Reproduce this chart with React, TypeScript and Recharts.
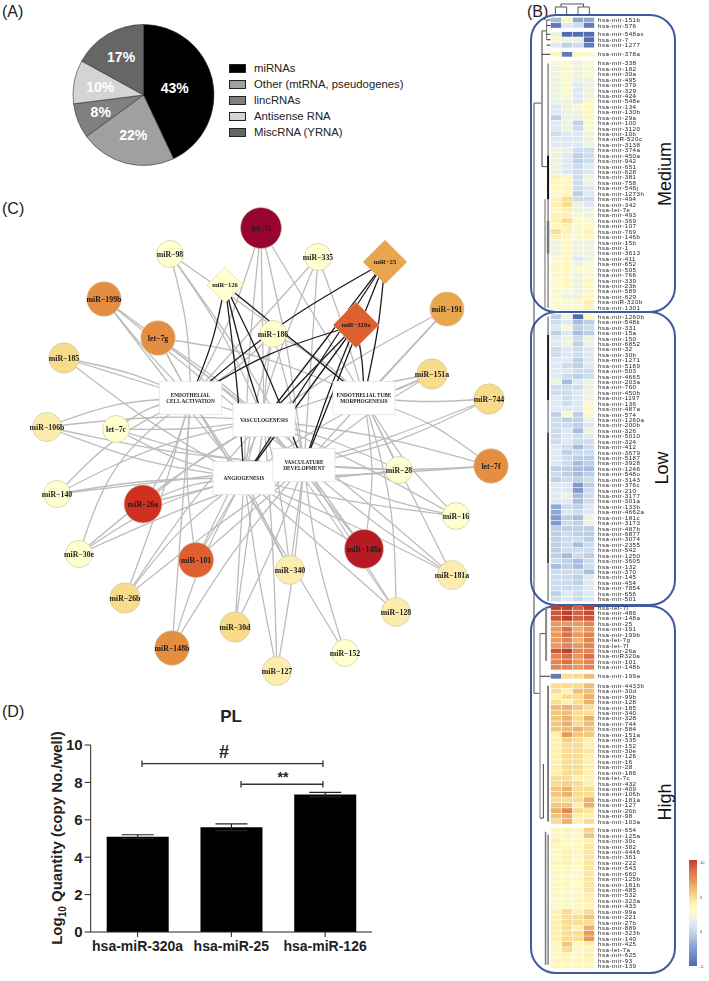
import React from 'react'
import {
  PieChart, Pie, Cell, Legend, ScatterChart, Scatter, XAxis, YAxis,
  BarChart, Bar, ErrorBar,
} from 'recharts'

const SANS = '"Liberation Sans", Arial, sans-serif'
const SERIF = '"Liberation Serif", "Times New Roman", serif'

// (A) RNA classes
const rnaNames = ['miRNAs', 'Other (mtRNA, pseudogenes)', 'lincRNAs', 'Antisense RNA', 'MiscRNA (YRNA)']
const rnaShare = [43, 22, 8, 10, 17]
const rnaColors = ['#000000', '#a0a0a0', '#808080', '#d4d4d4', '#666666']
const rnaLabelRadius = [32, 41, 46, 44, 44]

// (D) qPCR
const qpcrNames = ['hsa-miR-320a', 'hsa-miR-25', 'hsa-miR-126']
const qpcrMeans = [5.1, 5.6, 7.35]
const qpcrErrors = [0.1, 0.18, 0.12]
// significance brackets: from, to (in bar slots), height
const sigBrackets = [[0.547, 2.477, 9.0], [1.603, 2.477, 7.9]]

// (C) network nodes, x/y are the layout positions of the graph
const nodeNames = ['let-7i', 'miR-98', 'miR-126', 'miR-335', 'miR-25', 'miR-191', 'miR-320a', 'miR-199b', 'let-7g', 'miR-186', 'miR-185', 'miR-151a', 'miR-744', 'miR-106b', 'let-7c', 'let-7f', 'miR-28', 'miR-140', 'miR-16', 'miR-26a', 'miR-30e', 'miR-101', 'miR-148a', 'miR-340', 'miR-181a', 'miR-26b', 'miR-128', 'miR-30d', 'miR-148b', 'miR-152', 'miR-127']
const nodeX = [261, 170, 225, 318, 385, 447, 356, 104, 158, 273, 64, 432, 489, 47, 116, 491, 399, 57, 456, 143, 79, 196, 364, 290, 452, 125, 396, 235, 172, 345, 277]
const nodeY = [228, 254, 285, 257, 262, 309, 325, 299, 338, 334, 358, 374, 399, 427, 429, 466, 470, 494, 516, 504, 554, 560, 549, 570, 575, 598, 612, 627, 648, 653, 671]
const nodeLevel = [8, 0, 0, 0, 3, 3, 5, 4, 4, 0, 2, 2, 2, 1, 0, 4, 0, 0, 0, 6, 0, 5, 7, 1, 1, 2, 1, 2, 4, 0, 1]
const diamondNodes = ['miR-126', 'miR-25', 'miR-320a']
const levelColors = ['#ffffcf', '#fcedae', '#f8dc8a', '#e9a64c', '#e58d40', '#df5f30', '#cf3022', '#b81a24', '#98042f']
const levelRadius = [13.5, 14.5, 15.2, 17, 17.2, 17.6, 19, 19.5, 20.5]
const diamondSize = { 'miR-126': 18, 'miR-25': 22, 'miR-320a': 23 }

const processKeys = ['E', 'V', 'T', 'A', 'D']
const processX = [190.5, 264, 364, 244, 304]
const processY = [398, 420, 398, 478, 465]
const processLines = [
  ['ENDOTHELIAL', 'CELL ACTIVATION'],
  ['VASCULOGENESIS'],
  ['ENDOTHELIAL TUBE', 'MORPHOGENESIS'],
  ['ANGIOGENESIS'],
  ['VASCULATURE', 'DEVELOPMENT'],
]

const grayEdges: [string, string, number][] = [
  ['let-7i', 'E', -6], ['let-7i', 'V', 0], ['let-7i', 'A', 3], ['let-7i', 'D', -4], ['let-7i', 'T', 0],
  ['miR-98', 'E', -6], ['miR-98', 'V', -6], ['miR-98', 'D', -5], ['miR-98', 'T', -3],
  ['miR-335', 'E', 0], ['miR-335', 'A', 6], ['miR-335', 'D', 0], ['miR-335', 'T', -2],
  ['miR-186', 'E', -4], ['miR-186', 'V', 2], ['miR-186', 'A', 3], ['miR-186', 'D', -2], ['miR-186', 'T', -6],
  ['miR-191', 'T', 0], ['miR-191', 'D', 0], ['miR-191', 'V', 4],
  ['miR-199b', 'E', 2], ['miR-199b', 'V', -1], ['miR-199b', 'D', -1], ['miR-199b', 'A', 1],
  ['let-7g', 'E', 0], ['let-7g', 'V', -3], ['let-7g', 'A', 3], ['let-7g', 'D', -4], ['let-7g', 'T', -10],
  ['miR-185', 'E', -5], ['miR-185', 'V', 0], ['miR-185', 'A', 5],
  ['miR-151a', 'T', -3], ['miR-151a', 'V', 5], ['miR-151a', 'D', 4], ['miR-151a', 'A', 8],
  ['miR-744', 'T', -3], ['miR-744', 'D', -8], ['miR-744', 'A', -6],
  ['miR-106b', 'E', -8], ['miR-106b', 'V', -6], ['miR-106b', 'A', 8], ['miR-106b', 'D', 6],
  ['let-7c', 'E', -6], ['let-7c', 'V', 4], ['let-7c', 'A', 6], ['let-7c', 'D', 8],
  ['let-7f', 'T', 8], ['let-7f', 'V', 6], ['let-7f', 'D', -4], ['let-7f', 'A', -2],
  ['miR-28', 'T', 0], ['miR-28', 'V', 4], ['miR-28', 'D', 0], ['miR-28', 'A', -4],
  ['miR-140', 'E', -10], ['miR-140', 'V', -10], ['miR-140', 'A', -5], ['miR-140', 'D', 0],
  ['miR-16', 'D', -6], ['miR-16', 'A', -4], ['miR-16', 'T', -6], ['miR-16', 'V', 3],
  ['miR-26a', 'E', 6], ['miR-26a', 'A', -6], ['miR-26a', 'D', 0], ['miR-26a', 'V', -4],
  ['miR-30e', 'E', -20], ['miR-30e', 'A', -10], ['miR-30e', 'V', -6], ['miR-30e', 'D', -4],
  ['miR-101', 'E', -6], ['miR-101', 'A', 0], ['miR-101', 'D', 0], ['miR-101', 'V', 0],
  ['miR-148a', 'T', 8], ['miR-148a', 'D', 0], ['miR-148a', 'A', 0], ['miR-148a', 'V', 0],
  ['miR-340', 'A', 0], ['miR-340', 'V', 3], ['miR-340', 'D', 0], ['miR-340', 'E', 2],
  ['miR-181a', 'T', 0], ['miR-181a', 'D', -4], ['miR-181a', 'V', 2], ['miR-181a', 'A', 3],
  ['miR-26b', 'E', 3], ['miR-26b', 'A', -8], ['miR-26b', 'V', -6], ['miR-26b', 'D', -3],
  ['miR-128', 'T', 10], ['miR-128', 'A', 0], ['miR-128', 'D', 0], ['miR-128', 'V', 0],
  ['miR-30d', 'A', 0], ['miR-30d', 'V', 0], ['miR-30d', 'D', 3],
  ['miR-148b', 'A', -6], ['miR-148b', 'D', -6], ['miR-148b', 'E', 0],
  ['miR-152', 'D', -6], ['miR-152', 'E', 0],
  ['miR-127', 'A', -2], ['miR-127', 'V', 2], ['miR-127', 'D', 3],
]
const blackEdges: [string, string, number][] = [
  ['miR-126', 'E', -4], ['miR-126', 'V', 2], ['miR-126', 'A', -2], ['miR-126', 'T', 0], ['miR-126', 'D', -3],
  ['miR-25', 'E', 8], ['miR-25', 'V', 0], ['miR-25', 'A', 0], ['miR-25', 'D', 0], ['miR-25', 'T', -3],
  ['miR-320a', 'E', 8], ['miR-320a', 'V', 0], ['miR-320a', 'A', 0], ['miR-320a', 'D', 2], ['miR-320a', 'T', -2],
]

// (B) heat map, rows as [col1, col2, col3, col4]
const mediumNames = ['hsa-mir-151b', 'hsa-mir-576', 'hsa-mir-548ax', 'hsa-mir-7', 'hsa-mir-1277', 'hsa-mir-378a', 'hsa-mir-338', 'hsa-mir-182', 'hsa-mir-30a', 'hsa-mir-495', 'hsa-mir-379', 'hsa-mir-329', 'hsa-mir-424', 'hsa-mir-548e', 'hsa-mir-134', 'hsa-mir-130b', 'hsa-mir-29a', 'hsa-mir-100', 'hsa-mir-3120', 'hsa-mir-10b', 'hsa-miR-520c', 'hsa-mir-3138', 'hsa-mir-374a', 'hsa-mir-450a', 'hsa-mir-942', 'hsa-mir-651', 'hsa-mir-628', 'hsa-mir-381', 'hsa-mir-758', 'hsa-mir-548j', 'hsa-mir-1273h', 'hsa-mir-494', 'hsa-mir-342', 'hsa-let-7e', 'hsa-mir-493', 'hsa-mir-369', 'hsa-mir-107', 'hsa-mir-769', 'hsa-mir-146b', 'hsa-mir-15b', 'hsa-mir-1', 'hsa-mir-3613', 'hsa-mir-411', 'hsa-mir-652', 'hsa-mir-505', 'hsa-mir-766', 'hsa-mir-339', 'hsa-mir-23b', 'hsa-mir-589', 'hsa-mir-629', 'hsa-miR-320b', 'hsa-mir-1301']
const mediumValues = [
  [-5, 1, -6, -6], [-9, -2, -3, -9], [-1, -10, -10, -10], [1, -1, -1, -10], [-2, -4, -3, -9], [1, -9, 1, 0],
  [0, 0, -1, 0], [-1, 0, -1, 0], [-1, 0, -1, 0], [-1, 0, -1, -1], [-1, 0, -2, -1], [-1, 0, -2, -1], [-1, 0, -2, -1],
  [-1, -1, -2, 1], [-2, -1, 0, 1], [-2, -1, -1, 1], [-4, -1, -1, 1], [-2, -1, -4, 0], [-2, -1, -3, 0], [-3, -2, -2, -1],
  [-2, -2, -2, -1], [-2, -2, -2, -1], [-1, -1, -3, -3], [-1, -2, -4, -3], [-1, -2, -4, -3], [-1, -2, -3, -2], [-1, -2, -3, -2],
  [2, 1, -3, -1], [1, 1, -3, -1], [1, 1, -3, -2], [0, 1, -4, -2], [2, 3, -3, -3], [2, 3, -1, -2], [1, 2, -1, -1],
  [2, 2, 0, -1], [2, 3, 0, 0], [1, 2, 0, 1], [3, 2, 0, 2], [2, 1, 0, 1], [-1, 1, -1, -1], [-1, 1, -1, -1], [-1, 1, -1, -1],
  [0, 1, -2, -1], [0, 1, -1, 0], [1, 1, 0, 0], [1, 1, -1, 0], [0, 1, -1, 1], [0, 1, -1, 1], [0, 0, -1, 1], [0, -1, -1, 1],
  [0, 0, 0, 2], [0, 0, 0, 2],
]
const mediumStarts = [0, 2.63, 6.32, 7.97]
const mediumSizes = [2, 3, 1, 46]

const lowNames = ['hsa-mir-1260b', 'hsa-mir-548k', 'hsa-mir-331', 'hsa-mir-15a', 'hsa-mir-150', 'hsa-mir-6852', 'hsa-mir-32', 'hsa-mir-30b', 'hsa-mir-1271', 'hsa-mir-5189', 'hsa-mir-503', 'hsa-mir-4665', 'hsa-mir-203a', 'hsa-mir-760', 'hsa-mir-450b', 'hsa-mir-1197', 'hsa-mir-136', 'hsa-mir-487a', 'hsa-mir-574', 'hsa-mir-1260a', 'hsa-mir-200b', 'hsa-mir-326', 'hsa-mir-5010', 'hsa-mir-324', 'hsa-mir-412', 'hsa-mir-3679', 'hsa-mir-5187', 'hsa-mir-3928', 'hsa-mir-1246', 'hsa-mir-548o', 'hsa-mir-3143', 'hsa-mir-376c', 'hsa-mir-210', 'hsa-mir-3177', 'hsa-mir-301a', 'hsa-mir-133b', 'hsa-mir-4662a', 'hsa-mir-181c', 'hsa-mir-3173', 'hsa-mir-487b', 'hsa-mir-6877', 'hsa-mir-3074', 'hsa-mir-2355', 'hsa-mir-542', 'hsa-mir-1250', 'hsa-mir-3605', 'hsa-mir-132', 'hsa-mir-370', 'hsa-mir-145', 'hsa-mir-454', 'hsa-mir-7854', 'hsa-mir-656', 'hsa-mir-501']
const lowValues = [
  [-4, -1, -10, 1], [-3, -2, -5, -4], [-2, 0, -4, -3], [-4, -2, -5, -4], [-2, -1, -3, -1], [-2, -1, -4, -1], [-3, -2, -3, -2],
  [-3, -2, -3, -2], [-2, -2, -4, -2], [-2, -3, -4, -2], [-2, -2, -3, -3], [-2, -3, -4, -3], [-1, -5, -2, -1], [-3, -3, -3, -1],
  [-3, -3, -2, -1], [-2, -3, -2, -1], [-2, -3, -2, 0], [-2, -2, -2, 1], [-4, 0, -4, 0], [-3, -4, -4, -1], [-3, -3, -4, -2],
  [-3, -2, -5, -1], [-3, -2, -3, -2], [-3, -2, -3, -3], [-2, -3, -5, -3], [-2, -4, -3, -3], [-2, -3, -4, -4], [-2, -3, -5, -4],
  [-4, -4, -5, -5], [-3, -4, -5, -4], [-4, -3, -4, -3], [-2, -2, -7, -4], [-2, -2, -7, -3], [-2, -1, -5, -3], [-2, -2, -5, -3],
  [-6, -3, -4, -2], [-6, -2, -3, -2], [-7, -4, -5, -1], [-7, -3, -4, -1], [-4, -4, -4, -4], [-4, -3, -4, -4], [-4, -3, -3, -4],
  [-4, -3, -5, -3], [-4, -3, -3, -3], [-4, -5, -3, -4], [-3, -4, -5, -3], [-5, -4, -5, -3], [-3, -3, -3, -5], [-3, -3, -4, -2],
  [-3, -3, -4, -2], [-3, -3, -3, -2], [-4, -2, -3, -2], [-3, -2, -3, -2],
]
const lowStarts = [54.64]
const lowSizes = [53]

const highNames = ['hsa-let-7i', 'hsa-mir-486', 'hsa-mir-148a', 'hsa-mir-25', 'hsa-mir-191', 'hsa-mir-199b', 'hsa-let-7g', 'hsa-let-7f', 'hsa-mir-26a', 'hsa-miR320a', 'hsa-mir-101', 'hsa-mir-148b', 'hsa-mir-199a', 'hsa-mir-4433b', 'hsa-mir-30d', 'hsa-mir-99b', 'hsa-mir-128', 'hsa-mir-185', 'hsa-mir-340', 'hsa-mir-328', 'hsa-mir-744', 'hsa-mir-584', 'hsa-mir-151a', 'hsa-mir-335', 'hsa-mir-152', 'hsa-mir-30e', 'hsa-mir-126', 'hsa-mir-16', 'hsa-mir-28', 'hsa-mir-186', 'hsa-let-7c', 'hsa-mir-432', 'hsa-mir-409', 'hsa-mir-106b', 'hsa-mir-181a', 'hsa-mir-127', 'hsa-mir-26b', 'hsa-mir-98', 'hsa-mir-103a', 'hsa-mir-654', 'hsa-mir-125a', 'hsa-mir-30c', 'hsa-mir-382', 'hsa-mir-4446', 'hsa-mir-361', 'hsa-mir-222', 'hsa-mir-543', 'hsa-mir-660', 'hsa-mir-125b', 'hsa-mir-181b', 'hsa-mir-485', 'hsa-mir-532', 'hsa-mir-323a', 'hsa-mir-433', 'hsa-mir-99a', 'hsa-mir-221', 'hsa-mir-27b', 'hsa-mir-889', 'hsa-mir-323b', 'hsa-mir-140', 'hsa-mir-425', 'hsa-let-7a', 'hsa-mir-625', 'hsa-mir-93', 'hsa-mir-139']
const highValues = [
  [10, 10, 8.5, 10], [9, 10, 8.5, 9.5], [9, 10, 8.5, 9], [6, 6, 6, 7], [6, 8, 5, 6], [6, 8, 6, 7], [6, 7, 5, 7], [6, 7, 6, 7],
  [9, 10, 7, 7], [7, 8, 6, 8], [7, 8, 6, 7], [7, 7, 6, 7], [-9, 3, 3, 4.5], [3, 3, 3, 4.5], [3, 2, 4.5, 4.5], [2, 3, 3, 5],
  [3, 2, 3, 5], [4.5, 5, 4, 3], [4, 4.5, 3, 3], [4, 5, 3, 5], [4, 5, 3, 4.5], [4, 4.5, 5, 4], [2, 6, 4, 4], [2, 3.5, 3, 2],
  [2, 3, 3, 2], [2, 3, 3, 2.5], [2, 3, 3, 2], [2, 3, 3, 2], [2, 3, 3, 2], [2, 3, 3, 2], [3, 3, 2, 2], [3, 3.5, 3, 2], [4, 5, 3, 3],
  [4, 5, 3, 3], [3, 3, 3, 5], [4, 4, 2, 5], [5, 7, 3, 2.5], [4, 5, 2, 2], [3, 5, 2, 3], [1, 1.5, 1, 3.5], [1, 1.5, 1, 4], [2, 1, 1, 2],
  [1, 1, 1, 2.5], [1, 2, 1, 2.5], [1, 2, 1, 2.5], [1.5, 2, 1, 2.5], [1, 1, 0.5, 2.5], [1, 1, 0, 2.5], [1, 1, 1, 2.5], [1, 1, 0.5, 2.5],
  [1, 1, 1, 2.5], [1, 1, 1, 2], [0, 0, 1, 2], [0, 1, 1, 1.5], [2, 3, 2, 3], [2, 3, 3, 4], [2, 3, 3, 3], [2, 3, 2, 5], [2, 3, 3, 6],
  [2, 3, 3, 6], [1, 4, 1, 2], [1, 3, 1, 1.5], [1, 1.5, 1, 2], [1, 1.5, 1, 1.5], [1, 1, 1, 1],
]
const highStarts = [108.2, 120.86, 122.6, 149.2]
const highSizes = [12, 1, 26, 26]

const scaleValues = [-10, -6, -4, -2, -1, 0.5, 2, 3, 4.5, 6, 8, 10]
const scaleColors = ['#4f6db0', '#8fa9d4', '#bdd0e6', '#dfe9f3', '#eef3e0', '#fefcc8', '#fdf0b0', '#f9dd90', '#efbd75', '#e69a5c', '#d9704a', '#bf3f2e']
const colorbarTicks = ['10', '5', '0', '-5']

// dendrogram branches: col, row, col, row, colour, width
const dendroBranches: [number, number, number, number, string, number][] = [
  [-0.06, -0.8, -0.06, -2.4, '#555', 1], [0.97, -0.8, 0.97, -2.4, '#555', 1], [-0.06, -2.4, 0.97, -2.4, '#555', 1],
  [2, -0.8, 2, -2.4, '#555', 1], [3.03, -0.8, 3.03, -2.4, '#555', 1], [2, -2.4, 3.03, -2.4, '#555', 1],
  [0.45, -2.4, 0.45, -2.95, '#555', 1], [2.5, -2.4, 2.5, -2.95, '#555', 1], [0.45, -2.95, 2.5, -2.95, '#555', 1],
  [-2, 15.3, -2, 124, '#444', 1], [-2, 15.3, -1.27, 15.3, '#555', 1], [-2, 124, -1.45, 124, '#555', 1],
  [-1.27, 2, -1.27, 27, '#999', 2], [-1.27, 2, -0.85, 2, '#555', 1], [-1.27, 27, -0.72, 27, '#555', 1],
  [-0.85, 0, -0.85, 3.6, '#666', 1], [-0.85, 0, -0.5, 0, '#333', 1], [-0.85, 1, -0.5, 1, '#333', 1],
  [-0.85, 2.63, -0.5, 2.63, '#333', 1], [-0.85, 3.63, -0.5, 3.63, '#333', 1], [-0.85, 4.63, -0.5, 4.63, '#333', 1],
  [-1.27, 6.32, -0.5, 6.32, '#333', 1],
  [-0.72, 8, -0.72, 53, '#888', 1.5], [-0.72, 25, -0.72, 33, '#111', 2], [-0.72, 37, -0.72, 43, '#777', 2.5],
  [-1, 33, -1, 53, '#666', 1], [-0.72, 54.6, -0.72, 107, '#888', 1.5], [-0.72, 58, -0.72, 70, '#222', 2], [-0.72, 76, -0.72, 100, '#333', 1.5],
  [-1.45, 113, -1.45, 147, '#999', 1.3], [-1.45, 113, -0.9, 113, '#555', 1], [-0.9, 108, -0.9, 118, '#888', 2],
  [-1.45, 120.86, -0.5, 120.86, '#333', 1], [-0.72, 122.6, -0.72, 147.6, '#555', 1.5], [-1.15, 137, -1.15, 147, '#444', 1],
  [-1.45, 147, -1.15, 147, '#555', 1], [-0.95, 149.5, -0.95, 174, '#777', 1.5], [-0.72, 150, -0.72, 174, '#444', 1],
]

const colPitchStart = 556
const colPitch = 11
const rowStart = 20
const rowPitch = 5.43

function hexChannel(hex: string, i: number) {
  return parseInt(hex.slice(1 + i * 2, 3 + i * 2), 16)
}

function heatColor(v: number) {
  let i = 0
  while (i < scaleValues.length - 2 && v > scaleValues[i + 1]) i++
  const t = Math.max(0, Math.min(1, (v - scaleValues[i]) / (scaleValues[i + 1] - scaleValues[i])))
  const mix = [0, 1, 2].map((c) => Math.round(hexChannel(scaleColors[i], c) * (1 - t) + hexChannel(scaleColors[i + 1], c) * t))
  return `rgb(${mix.join(',')})`
}

function buildHeatRows(names: string[], values: number[][], starts: number[], sizes: number[]) {
  const rows: { name: string; row: number; values: number[] }[] = []
  let k = 0
  starts.forEach((start, b) => {
    for (let i = 0; i < sizes[b]; i++) {
      rows.push({ name: names[k], row: start + i, values: values[k] })
      k++
    }
  })
  return rows
}

const heatRows = [
  ...buildHeatRows(mediumNames, mediumValues, mediumStarts, mediumSizes),
  ...buildHeatRows(lowNames, lowValues, lowStarts, lowSizes),
  ...buildHeatRows(highNames, highValues, highStarts, highSizes),
]
const heatCells = heatRows.flatMap((r) => r.values.map((v, col) => ({ x: col, y: r.row, v })))
const heatLabels = heatRows.map((r) => ({ x: 3.82, y: r.row, name: r.name }))

function HeatCell(props: any) {
  return <rect x={props.cx - 5.2} y={props.cy - 2.4} width={10.4} height={4.8} fill={heatColor(props.payload.v)} />
}

function HeatLabel(props: any) {
  return (
    <text x={props.cx} y={props.cy + 2.1} fontSize={6.2} letterSpacing={0.5} fontFamily={SANS} fill="#222">
      {props.payload.name}
    </text>
  )
}

function nodePoint(name: string) {
  const i = nodeNames.indexOf(name)
  return { x: nodeX[i], y: nodeY[i] }
}

function edgePoints(edge: [string, string, number]) {
  const a = nodePoint(edge[0])
  const p = processKeys.indexOf(edge[1])
  const b = { x: processX[p], y: processY[p] }
  const dx = b.x - a.x
  const dy = b.y - a.y
  const len = Math.hypot(dx, dy)
  return [a, { x: (a.x + b.x) / 2 - (dy / len) * edge[2], y: (a.y + b.y) / 2 + (dx / len) * edge[2] }, b]
}

const nodeData = nodeNames.map((name, i) => ({ name, x: nodeX[i], y: nodeY[i], level: nodeLevel[i] }))
const processData = processKeys.map((key, i) => ({ key, x: processX[i], y: processY[i], lines: processLines[i] }))

function NodeShape(props: any) {
  const { cx, cy, payload } = props
  const label = payload.name.replace('-', '\u2212')
  const fill = levelColors[payload.level]
  if (diamondNodes.includes(payload.name)) {
    const s = diamondSize[payload.name as keyof typeof diamondSize]
    return (
      <g>
        <polygon points={`${cx},${cy - s} ${cx + s},${cy} ${cx},${cy + s} ${cx - s},${cy}`} fill={fill} stroke="#d8cfa8" strokeWidth={0.6} />
        <text x={cx} y={cy + 2.3} textAnchor="middle" fontSize={6.6} fontWeight="bold" fontFamily={SERIF} fill="#1c1c1c">{label}</text>
      </g>
    )
  }
  return (
    <g>
      <circle cx={cx} cy={cy} r={levelRadius[payload.level]} fill={fill} stroke="#cfc9a6" strokeWidth={0.7} />
      <text x={cx} y={cy + 2.6} textAnchor="middle" fontSize={7.8} fontWeight="bold" fontFamily={SERIF} fill="#1c1c1c">{label}</text>
    </g>
  )
}

function ProcessBox(props: any) {
  const { cx, cy, payload } = props
  const lines: string[] = payload.lines
  return (
    <g>
      <rect x={cx - 31} y={cy - 16.5} width={62} height={33} fill="#fff" stroke="#e4e4e4" strokeWidth={0.8} />
      {lines.map((t, i) => (
        <text key={t} x={cx} y={cy + 2 + (i - (lines.length - 1) / 2) * 6.4} textAnchor="middle" fontSize={5.3} fontWeight="bold" fontFamily={SERIF} fill="#222">{t}</text>
      ))}
    </g>
  )
}

const noDot = () => null

function PanelTag({ text, x, y }: { text: string; x: number; y: number }) {
  return <div style={{ position: 'absolute', left: x, top: y, fontFamily: SANS, fontSize: 16, lineHeight: '18px', color: '#222' }}>{text}</div>
}

function GroupFrame({ top, height, label, labelY, labelX }: { top: number; height: number; label: string; labelY: number; labelX: number }) {
  return (
    <>
      <div style={{ position: 'absolute', left: 530, top, width: 142, height, border: '2px solid #3e5b9e', borderRadius: 26 }} />
      <div style={{ position: 'absolute', left: labelX, top: labelY, transform: 'translate(-50%,-50%) rotate(-90deg)', fontFamily: SANS, fontSize: 18, color: '#111' }}>{label}</div>
    </>
  )
}

const pieData = rnaNames.map((name, i) => ({ name, value: rnaShare[i] }))
const barData = qpcrNames.map((name, i) => ({ name, mean: qpcrMeans[i], err: qpcrErrors[i] }))

function PieLabel(props: any) {
  const a = (-props.midAngle * Math.PI) / 180
  const r = rnaLabelRadius[props.index]
  return (
    <text x={props.cx + r * Math.cos(a)} y={props.cy + r * Math.sin(a) + 5} textAnchor="middle" fontSize={14} fontWeight="bold" fontFamily={SANS} fill="#fff">
      {props.value}%
    </text>
  )
}

function bracketPaths(b: number[]) {
  const [x1, x2, y] = b
  const cap = 0.17
  return [
    [{ x: x1, y }, { x: x2, y }],
    [{ x: x1, y: y - cap }, { x: x1, y: y + cap }],
    [{ x: x2, y: y - cap }, { x: x2, y: y + cap }],
  ]
}

export default function App() {
  return (
    <div style={{ position: 'absolute', left: 0, top: 0, width: 709, height: 981, background: '#fff', overflow: 'hidden' }}>
      <PanelTag text="(A)" x={2} y={3} />
      <PanelTag text="(B)" x={527} y={3} />
      <PanelTag text="(C)" x={2} y={200} />
      <PanelTag text="(D)" x={2} y={703} />

      <div style={{ position: 'absolute', left: 0, top: 0 }}>
        <PieChart width={420} height={180} margin={{ top: 0, right: 0, bottom: 0, left: 0 }}>
          <Pie data={pieData} dataKey="value" nameKey="name" cx={143.5} cy={95} outerRadius={70.5} startAngle={90} endAngle={-270}
            stroke="#333" strokeWidth={0.6} isAnimationActive={false} labelLine={false} label={PieLabel}>
            {rnaColors.map((c) => <Cell key={c} fill={c} />)}
          </Pie>
          <Legend layout="vertical" wrapperStyle={{ left: 229, top: 60, width: 190 }}
            content={() => (
              <div>
                {rnaNames.map((n, i) => (
                  <div key={n} style={{ display: 'flex', alignItems: 'center', height: 16, fontFamily: SANS, fontSize: 11.3, color: '#222', whiteSpace: 'nowrap' }}>
                    <span style={{ width: 15, height: 7, marginRight: 8, background: rnaColors[i], border: '0.7px solid #222' }} />
                    {n}
                  </div>
                ))}
              </div>
            )} />
        </PieChart>
      </div>

      <div style={{ position: 'absolute', left: 0, top: 180, willChange: 'transform' }}>
        <ScatterChart width={520} height={520} margin={{ top: 0, right: 0, bottom: 0, left: 0 }}>
          <XAxis type="number" dataKey="x" domain={[0, 520]} hide />
          <YAxis type="number" dataKey="y" domain={[180, 700]} reversed hide />
          {grayEdges.map((e) => (
            <Scatter key={e[0] + e[1]} data={edgePoints(e)} line={{ stroke: '#bcbcbc', strokeWidth: 1.3 }} lineJointType="natural" shape={noDot} isAnimationActive={false} />
          ))}
          {blackEdges.map((e) => (
            <Scatter key={e[0] + e[1]} data={edgePoints(e)} line={{ stroke: '#1c1c1c', strokeWidth: 1.3 }} lineJointType="natural" shape={noDot} isAnimationActive={false} />
          ))}
          <Scatter data={processData} shape={ProcessBox} isAnimationActive={false} />
          <Scatter data={nodeData} shape={NodeShape} isAnimationActive={false} />
        </ScatterChart>
      </div>

      <div style={{ position: 'absolute', left: 0, top: 700 }}>
        <BarChart width={400} height={281} data={barData} margin={{ top: 45, right: 28, bottom: 19, left: 50.7 }}>
          <XAxis dataKey="name" interval={0} height={30} tickSize={5} tickMargin={4} axisLine={{ stroke: '#222' }} tickLine={{ stroke: '#222' }}
            tick={{ fontFamily: SANS, fontSize: 14, fontWeight: 'bold', fill: '#222' }} />
          <YAxis width={40} domain={[0, 10]} ticks={[0, 2, 4, 6, 8, 10]} tickSize={6} tickMargin={2} axisLine={{ stroke: '#222' }} tickLine={{ stroke: '#222' }}
            tick={{ fontFamily: SANS, fontSize: 15, fontWeight: 'bold', fill: '#222' }} />
          <Bar dataKey="mean" fill="#000" barSize={62} isAnimationActive={false}>
            <ErrorBar dataKey="err" width={16} stroke="#222" strokeWidth={1.2} />
          </Bar>
        </BarChart>
      </div>
      {/* brackets sit on a numeric copy of the bar chart's plot area */}
      <div style={{ position: 'absolute', left: 0, top: 700 }}>
        <ScatterChart width={400} height={281} margin={{ top: 45, right: 28, bottom: 49, left: 90.7 }}>
          <XAxis type="number" dataKey="x" domain={[0, 3]} hide />
          <YAxis type="number" dataKey="y" domain={[0, 10]} hide />
          {sigBrackets.flatMap(bracketPaths).map((p, i) => (
            <Scatter key={i} data={p} line={{ stroke: '#333', strokeWidth: 1.3 }} shape={noDot} isAnimationActive={false} />
          ))}
        </ScatterChart>
      </div>
      <div style={{ position: 'absolute', left: 231, top: 717, transform: 'translate(-50%,-50%)', fontFamily: SANS, fontSize: 17, fontWeight: 'bold', color: '#222' }}>PL</div>
      <div style={{ position: 'absolute', left: 224, top: 752, transform: 'translate(-50%,-50%)', fontFamily: SANS, fontSize: 18, fontWeight: 'bold', color: '#222' }}>#</div>
      <div style={{ position: 'absolute', left: 283, top: 777, transform: 'translate(-50%,-50%)', fontFamily: SANS, fontSize: 14, fontWeight: 'bold', color: '#222' }}>**</div>
      <div style={{ position: 'absolute', left: 58, top: 838, transform: 'translate(-50%,-50%) rotate(-90deg)', fontFamily: SANS, fontSize: 15, fontWeight: 'bold', color: '#222', whiteSpace: 'nowrap' }}>
        Log<sub style={{ fontSize: 10 }}>10</sub> Quantity (copy No./well)
      </div>

      <GroupFrame top={14} height={295} label="Medium" labelX={665} labelY={174} />
      <GroupFrame top={311} height={291} label="Low" labelX={662} labelY={468} />
      <GroupFrame top={605} height={365} label="High" labelX={665} labelY={802} />

      <div style={{ position: 'absolute', left: 525, top: 0, willChange: 'transform' }}>
        <ScatterChart width={184} height={981} margin={{ top: 0, right: 0, bottom: 0, left: 0 }}>
          <XAxis type="number" dataKey="x" hide domain={[(525 - colPitchStart) / colPitch, (709 - colPitchStart) / colPitch]} />
          <YAxis type="number" dataKey="y" hide reversed domain={[-rowStart / rowPitch, (981 - rowStart) / rowPitch]} />
          {dendroBranches.map((b, i) => (
            <Scatter key={i} data={[{ x: b[0], y: b[1] }, { x: b[2], y: b[3] }]} line={{ stroke: b[4], strokeWidth: b[5] }} shape={noDot} isAnimationActive={false} />
          ))}
          <Scatter data={heatCells} shape={HeatCell} isAnimationActive={false} />
          <Scatter data={heatLabels} shape={HeatLabel} isAnimationActive={false} />
        </ScatterChart>
      </div>

      <div style={{
        position: 'absolute', left: 689, top: 860, width: 8, height: 106,
        background: `linear-gradient(to top, ${scaleColors.map((c, i) => `${c} ${((scaleValues[i] + 10) / 20) * 100}%`).join(', ')})`,
      }} />
      {colorbarTicks.map((t, i) => (
        <div key={t} style={{ position: 'absolute', left: 700, top: 861 + i * 34.5, fontFamily: SANS, fontSize: 4, lineHeight: '4px', color: '#444' }}>{t}</div>
      ))}
    </div>
  )
}
